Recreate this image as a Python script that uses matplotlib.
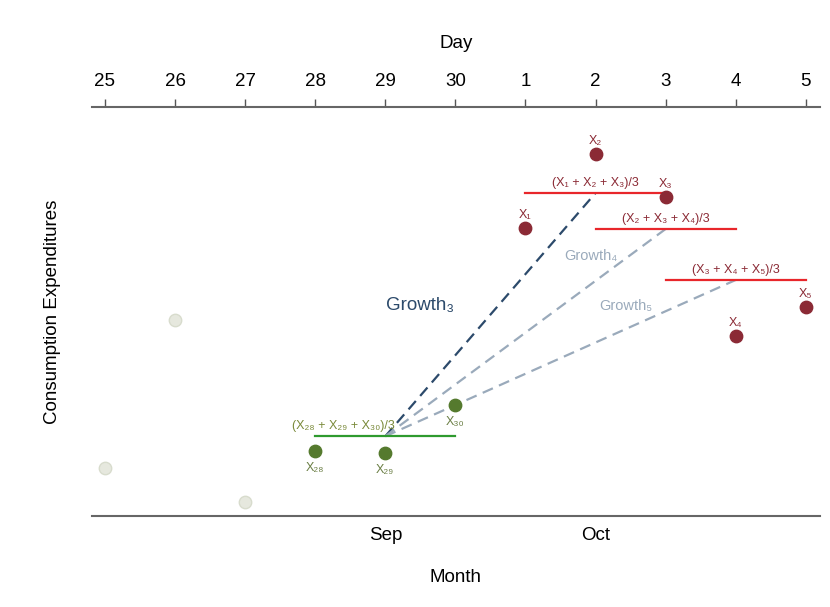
import matplotlib.pyplot as plt

plt.rcParams['font.family'] = ['Liberation Sans', 'DejaVu Sans']

days = ['25', '26', '27', '28', '29', '30', '1', '2', '3', '4', '5']
values = [12, 49, 3.5, 16.25, 15.75, 27.75, 72, 90.5, 79.75, 45, 52.25]
faded_idx = [0, 1, 2]
sep_idx = [3, 4, 5]
oct_idx = [6, 7, 8, 9, 10]
point_labels = ['', '', '', 'X₂₈', 'X₂₉', 'X₃₀', 'X₁', 'X₂', 'X₃', 'X₄', 'X₅']
label_below = [3, 4, 5]
months = ['Sep', 'Oct']
month_pos = [4, 7]

# 3-day moving averages: (window start, window end, label)
windows = [(3, 5, '(X₂₈ + X₂₉ + X₃₀)/3'),
           (6, 8, '(X₁ + X₂ + X₃)/3'),
           (7, 9, '(X₂ + X₃ + X₄)/3'),
           (8, 10, '(X₃ + X₄ + X₅)/3')]
growth = [(7, 'Growth₃'), (8, 'Growth₄'), (9, 'Growth₅')]

red = '#8b2a35'
green = '#557a2e'

fig = plt.figure(figsize=(8.3, 6.07), dpi=100)
ax = fig.add_axes([0.1108, 0.15, 0.877, 0.6738])
ax.set_xlim(-0.185, 10.2)
ax.set_ylim(0, 102.25)

x = list(range(len(days)))

ax.scatter([x[i] for i in faded_idx], [values[i] for i in faded_idx], s=80,
           color='#e6e8de', edgecolor='#d8dccd', lw=1, zorder=3)
ax.scatter([x[i] for i in sep_idx], [values[i] for i in sep_idx], s=80,
           color=green, zorder=3)
ax.scatter([x[i] for i in oct_idx], [values[i] for i in oct_idx], s=80,
           color=red, zorder=3)

for i, lab in enumerate(point_labels):
    if not lab:
        continue
    if i in label_below:
        ax.annotate(lab, (x[i], values[i]), xytext=(0, -8), textcoords='offset points',
                    ha='center', va='top', fontsize=9, color='#6b7f45')
    else:
        ax.annotate(lab, (x[i], values[i]), xytext=(0, 5), textcoords='offset points',
                    ha='center', va='bottom', fontsize=9, color=red)

avgs = []
for start, end, lab in windows:
    avg = sum(values[start:end + 1]) / 3
    avgs.append(avg)
    if start < 6:
        ax.plot([start, end], [avg, avg], color='#2e9a2e', lw=1.6, zorder=2)
        ax.text(start + 0.4, avg + 1.0, lab, ha='center', va='bottom',
                fontsize=9, color='#7a8a3a')
    else:
        ax.plot([start, end], [avg, avg], color='#e8262b', lw=1.6, zorder=2)
        ax.text((start + end) / 2, avg + 1.0, lab, ha='center', va='bottom',
                fontsize=9, color=red)

base_x = 4
base_y = avgs[0]
for k, (mid, lab) in enumerate(growth):
    gy = avgs[k + 1]
    col = '#2c4a6b' if k == 0 else '#9aaabb'
    ax.plot([base_x, mid], [base_y, gy], color=col, lw=1.6, ls=(0, (5, 3)), zorder=1)

ax.text(4.5, 52.5, growth[0][1], ha='center', va='center', fontsize=13.5, color='#2c4a6b')
ax.text(6.93, 65, growth[1][1], ha='center', va='center', fontsize=10.5, color='#9aaabb')
ax.text(7.43, 52.5, growth[2][1], ha='center', va='center', fontsize=10.5, color='#9aaabb')

for side in ['left', 'right']:
    ax.spines[side].set_visible(False)
for side in ['top', 'bottom']:
    ax.spines[side].set_color('#666666')
    ax.spines[side].set_linewidth(1.5)

ax.set_yticks([])
ax.set_xticks(month_pos)
ax.set_xticklabels(months, fontsize=13.5)
ax.tick_params(axis='x', length=0, pad=8)
ax.set_xlabel('Month', fontsize=13.5, labelpad=18)
ax.set_ylabel('Consumption Expenditures', fontsize=13.5, labelpad=22)

top = ax.secondary_xaxis('top')
top.set_xticks(x)
top.set_xticklabels(days, fontsize=13.5)
top.tick_params(length=6, width=1, color='#555555', pad=6)
top.spines['top'].set_visible(False)
top.set_xlabel('Day', fontsize=13.5, labelpad=18)

fig.savefig('out.png', dpi=100)
